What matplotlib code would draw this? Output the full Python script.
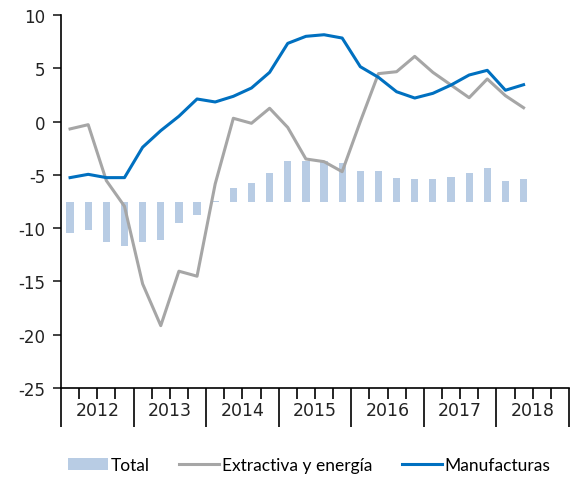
import matplotlib.pyplot as plt
from matplotlib.transforms import blended_transform_factory

years = ["2012", "2013", "2014", "2015", "2016", "2017", "2018"]

# quarterly data, 2012Q1 - 2018Q2
total = [-2.97, -2.67, -3.77, -4.17, -3.77, -3.6, -2.01, -1.23, 0.09, 1.27, 1.74, 2.68, 3.84,
         3.78, 3.78, 3.59, 2.9, 2.9, 2.21, 2.09, 2.09, 2.34, 2.71, 3.15, 1.96, 2.09]
extractiva = [-0.69, -0.29, -5.54, -7.95, -15.23, -19.15, -14.04, -14.51, -5.85, 0.31, -0.16, 1.25, -0.55,
              -3.51, -3.76, -4.70, 0.0, 4.5, 4.68, 6.12, 4.62, 3.43, 2.24, 4.0, 2.43, 1.3]
manufacturas = [-5.26, -4.95, -5.26, -5.26, -2.41, -0.85, 0.5, 2.12, 1.84, 2.37, 3.15, 4.62, 7.34,
                8.0, 8.15, 7.84, 5.15, 4.15, 2.8, 2.21, 2.65, 3.43, 4.37, 4.81, 2.94, 3.46]
bar_base = -7.5  # bars hang from this level

plt.rcParams['font.family'] = ['DejaVu Sans']
plt.rcParams['axes.unicode_minus'] = False

fig = plt.figure(figsize=(5.77, 4.81), dpi=100)
ax = fig.add_axes([0.1057, 0.1913, 0.8803, 0.7754])

x = [i + 0.5 for i in range(len(total))]
b = ax.bar(x, total, bottom=bar_base, width=0.4, color="#B8CCE4", label="Total", zorder=1)
l1, = ax.plot(x, extractiva, color="#A6A6A6", lw=2.2, label="Extractiva y energía", zorder=2)
l2, = ax.plot(x, manufacturas, color="#0070C0", lw=2.2, label="Manufacturas", zorder=3)

ax.set_ylim(-25, 10)
ax.set_yticks(range(-25, 11, 5))
ax.set_xlim(0, 28)

ax.spines["top"].set_visible(False)
ax.spines["right"].set_visible(False)
ax.spines["left"].set_linewidth(1.2)
ax.spines["bottom"].set_linewidth(1.2)

ax.tick_params(axis="y", length=6, width=1.2, pad=5, labelsize=12, colors="#222222")
ax.set_xticks(range(0, 29, 4))
ax.set_xticklabels([])
ax.set_xticks(range(0, 29), minor=True)
ax.tick_params(axis="x", which="major", length=28, width=1.2)
ax.tick_params(axis="x", which="minor", length=8, width=1.2)

trans = blended_transform_factory(ax.transData, ax.transAxes)
for i, yr in enumerate(years):
    ax.text(i * 4 + 2, -0.058, yr, transform=trans, ha="center", va="center",
            fontsize=12.5, color="#222222")

fig.legend([b, l1, l2], ["Total", "Extractiva y energía", "Manufacturas"],
           loc="center", bbox_to_anchor=(0.536, 0.031), ncol=3, frameon=False,
           prop={"family": "Lato", "size": 12.5}, handlelength=2.3,
           handletextpad=0.15, columnspacing=1.7)

fig.savefig("out.png", dpi=100)
